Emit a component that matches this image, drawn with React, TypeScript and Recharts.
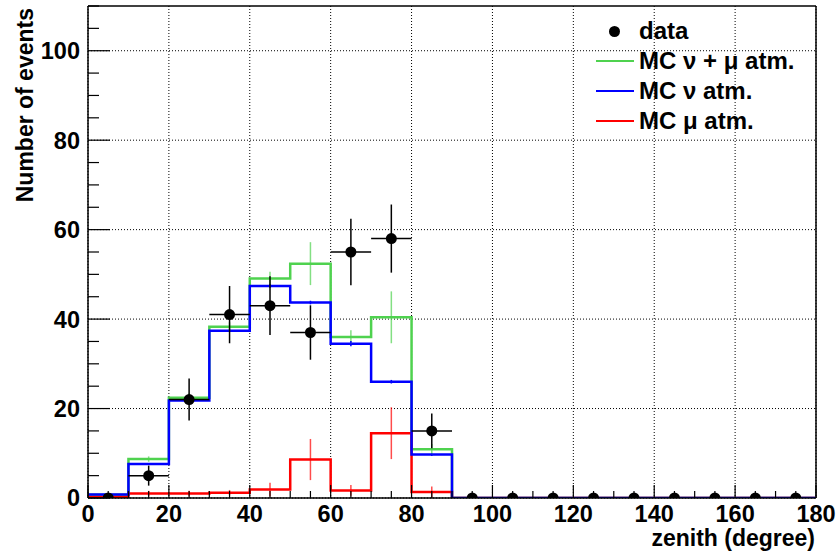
import React from 'react';
import {
  ComposedChart,
  Line,
  Scatter,
  XAxis,
  YAxis,
  CartesianGrid,
  ErrorBar,
  ReferenceLine,
} from 'recharts';

// zenith bins, 10 degree wide
const binEdges = [0, 10, 20, 30, 40, 50, 60, 70, 80, 90, 100, 110, 120, 130, 140, 150, 160, 170];
const binCenters = [5, 15, 25, 35, 45, 55, 65, 75, 85, 95, 105, 115, 125, 135, 145, 155, 165, 175];

const dataCounts = [0, 5, 22, 41, 43, 37, 55, 58, 15, 0, 0, 0, 0, 0, 0, 0, 0, 0];
const mcNuMu = [0.7, 8.7, 22.4, 38.3, 49.1, 52.4, 36.0, 40.4, 10.9, 0, 0, 0, 0, 0, 0, 0, 0, 0];
const mcNuMuErr = [0.3, 0.6, 1.0, 1.0, 1.5, 4.8, 1.5, 5.8, 1.2, 0, 0, 0, 0, 0, 0, 0, 0, 0];
const mcNu = [0.8, 7.6, 21.8, 37.4, 47.4, 43.7, 34.5, 26.0, 9.7, 0, 0, 0, 0, 0, 0, 0, 0, 0];
const mcNuErr = [0.1, 0.2, 0.3, 0.3, 0.4, 0.4, 0.6, 0.4, 0.3, 0, 0, 0, 0, 0, 0, 0, 0, 0];
const mcMu = [0.2, 1.0, 1.0, 1.2, 1.9, 8.6, 1.7, 14.5, 1.35, 0, 0, 0, 0, 0, 0, 0, 0, 0];
const mcMuErr = [0.2, 0.6, 0.6, 0.6, 1.5, 4.6, 1.2, 5.8, 1.2, 0, 0, 0, 0, 0, 0, 0, 0, 0];

const xMajor = [0, 20, 40, 60, 80, 100, 120, 140, 160, 180];
const yMajor = [0, 20, 40, 60, 80, 100];
const xAllTicks = Array.from({ length: 37 }, (_, i) => i * 5);
const yAllTicks = Array.from({ length: 23 }, (_, i) => i * 5);

const GREEN = '#4fd24f';
const BLUE = '#0000ff';
const RED = '#ff0000';
const FONT = '"Liberation Sans", Arial, Helvetica, sans-serif';

// step outline: one point per left bin edge, plus the closing edge
const toSteps = (vals: number[]) => [
  ...binEdges.map((x, i) => ({ x, y: vals[i] })),
  { x: 180, y: vals[vals.length - 1] },
];

const toErrPoints = (vals: number[], errs: number[]) =>
  binCenters.map((x, i) => ({ x, y: vals[i], e: errs[i] })).filter((d) => d.y > 0);

const dataPoints = binCenters.map((x, i) => ({
  x,
  y: dataCounts[i],
  ey: Math.sqrt(dataCounts[i]),
  ex: dataCounts[i] > 0 ? 5 : 0,
}));

const noShape = () => <g />;
const dotShape = (p: any) => <circle cx={p.cx} cy={p.cy} r={5.5} fill="#000" />;

const legendItems = [
  { label: 'data', kind: 'dot', color: '#000' },
  { label: 'MC ν + μ atm.', kind: 'line', color: GREEN },
  { label: 'MC ν atm.', kind: 'line', color: BLUE },
  { label: 'MC μ atm.', kind: 'line', color: RED },
];

const LegendBox = () => (
  <div
    style={{
      position: 'absolute',
      left: 590,
      top: 16,
      fontFamily: FONT,
      fontWeight: 'bold',
      fontSize: 24,
      color: '#000',
    }}
  >
    {legendItems.map((it) => (
      <div key={it.label} style={{ display: 'flex', alignItems: 'center', height: 30 }}>
        <div style={{ width: 49, display: 'flex', justifyContent: 'center' }}>
          {it.kind === 'dot' ? (
            <div style={{ width: 11, height: 11, borderRadius: 6, background: it.color }} />
          ) : (
            <div style={{ width: 38, height: 2, background: it.color }} />
          )}
        </div>
        <span style={{ whiteSpace: 'nowrap' }}>{it.label}</span>
      </div>
    ))}
  </div>
);

const TICK_MARGIN = 7;
const labelProps = { fontFamily: FONT, fontWeight: 'bold', fontSize: 23.5, fill: '#000' } as const;

// ROOT-style ticks: drawn inward, label only on the major ones
const XTick = (props: any) => {
  const { x, y, payload } = props;
  const v = payload.value;
  const major = v % 20 === 0;
  const axisY = y - TICK_MARGIN;
  return (
    <g>
      <line x1={x} x2={x} y1={axisY} y2={axisY - (major ? 13 : 7)} stroke="#000" strokeWidth={1.2} />
      {major && (
        <text x={x} y={y} dy="0.72em" textAnchor="middle" {...labelProps}>
          {v}
        </text>
      )}
    </g>
  );
};

const YTick = (props: any) => {
  const { x, y, payload } = props;
  const v = payload.value;
  const major = v % 20 === 0;
  const axisX = x + TICK_MARGIN;
  return (
    <g>
      <line x1={axisX} x2={axisX + (major ? 22 : 11)} y1={y} y2={y} stroke="#000" strokeWidth={1.2} />
      {major && v <= 100 && (
        <text x={x - 1} y={y} dy="0.36em" textAnchor="end" {...labelProps}>
          {v}
        </text>
      )}
    </g>
  );
};

export default function App() {
  return (
    <div style={{ position: 'absolute', left: 0, top: 0, width: 839, height: 555, background: '#fff' }}>
      <ComposedChart width={839} height={555} margin={{ top: 6, right: 23, bottom: 56, left: 87 }}>
        <CartesianGrid
          stroke="#000"
          strokeDasharray="1 2"
          strokeWidth={1}
          verticalValues={xMajor}
          horizontalValues={yMajor}
        />
        <XAxis
          type="number"
          dataKey="x"
          domain={[0, 180]}
          ticks={xAllTicks}
          interval={0}
          allowDataOverflow
          height={1}
          tickLine={false}
          tickSize={0}
          tickMargin={TICK_MARGIN}
          tick={<XTick />}
          axisLine={{ stroke: '#000', strokeWidth: 1.5 }}
          label={() => (
            <text x={815} y={546} textAnchor="end" fontFamily={FONT} fontWeight="bold" fontSize={23} fill="#000">
              zenith (degree)
            </text>
          )}
        />
        <YAxis
          type="number"
          domain={[0, 110]}
          ticks={yAllTicks}
          interval={0}
          allowDataOverflow
          width={1}
          tickLine={false}
          tickSize={0}
          tickMargin={TICK_MARGIN}
          tick={<YTick />}
          axisLine={{ stroke: '#000', strokeWidth: 1.5 }}
          label={() => (
            <text
              transform="translate(33, 8) rotate(-90)"
              textAnchor="end"
              fontFamily={FONT}
              fontWeight="bold"
              fontSize={23}
              fill="#000"
            >
              Number of events
            </text>
          )}
        />

        <ReferenceLine y={110} stroke="#000" strokeWidth={1.5} />
        <ReferenceLine x={180} stroke="#000" strokeWidth={1.5} />

        <Line data={toSteps(mcNuMu)} dataKey="y" type="stepAfter" stroke={GREEN} strokeWidth={2.5} dot={false} isAnimationActive={false} />
        <Line data={toSteps(mcMu)} dataKey="y" type="stepAfter" stroke={RED} strokeWidth={2.5} dot={false} isAnimationActive={false} />
        <Line data={toSteps(mcNu)} dataKey="y" type="stepAfter" stroke={BLUE} strokeWidth={2.5} dot={false} isAnimationActive={false} />

        <Scatter data={toErrPoints(mcNuMu, mcNuMuErr)} dataKey="y" shape={noShape} isAnimationActive={false}>
          <ErrorBar dataKey="e" direction="y" width={0} stroke={GREEN} strokeOpacity={0.7} strokeWidth={1.5} />
        </Scatter>
        <Scatter data={toErrPoints(mcMu, mcMuErr)} dataKey="y" shape={noShape} isAnimationActive={false}>
          <ErrorBar dataKey="e" direction="y" width={0} stroke={RED} strokeOpacity={0.7} strokeWidth={1.5} />
        </Scatter>
        <Scatter data={toErrPoints(mcNu, mcNuErr)} dataKey="y" shape={noShape} isAnimationActive={false}>
          <ErrorBar dataKey="e" direction="y" width={0} stroke={BLUE} strokeWidth={1.5} />
        </Scatter>

        <Scatter data={dataPoints} dataKey="y" shape={dotShape} isAnimationActive={false}>
          <ErrorBar dataKey="ey" direction="y" width={0} stroke="#000" strokeWidth={1.5} />
          <ErrorBar dataKey="ex" direction="x" width={0} stroke="#000" strokeWidth={1.5} />
        </Scatter>
      </ComposedChart>
      <LegendBox />
    </div>
  );
}
